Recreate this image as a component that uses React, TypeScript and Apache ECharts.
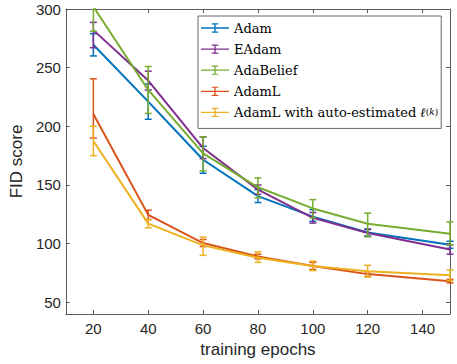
import React, { useEffect, useRef } from "react";
import * as echarts from "echarts";

const epochs = [20, 40, 60, 80, 100, 120, 150];
const xTicks = [20, 40, 60, 80, 100, 120, 140];
const yTicks = [50, 100, 150, 200, 250, 300];

const seriesNames = ["Adam", "EAdam", "AdaBelief", "AdamL", "AdamL with auto-estimated ℓ(k)"];
const seriesColors = ["#0072BD", "#7E2F8E", "#77AC30", "#D95319", "#EDB120"];

const adam = [269.5, 221, 171.5, 140.5, 123, 109.5, 99];
const adamLo = [9.5, 15, 11.5, 5.5, 4, 3, 3];
const adamHi = [9.5, 15, 11.5, 5.5, 6, 3, 3];

const eadam = [282, 239, 181.5, 146, 122, 109, 95];
const eadamLo = [15, 8, 9, 4, 4.5, 3, 4];
const eadamHi = [6.6, 8, 9.5, 4, 4.5, 3, 4];

const adabelief = [302, 231, 177, 148, 130, 117, 108.5];
const adabeliefLo = [21, 20, 15, 9, 8, 11, 9.5];
const adabeliefHi = [21, 20, 14, 8, 7.5, 9, 10];

const adamL = [210.5, 124.5, 100.5, 89, 81, 74, 68];
const adamLLo = [20.5, 4, 3, 2, 3, 2, 1.5];
const adamLHi = [30, 4, 3, 2, 3, 2, 1.5];

const adamLAuto = [187.5, 117, 98.5, 88, 81, 76.5, 73];
const adamLAutoLo = [12.5, 3.5, 8.5, 4, 4, 5, 4.5];
const adamLAutoHi = [12.5, 3.5, 7, 5, 4, 5, 4.5];

const values = [adam, eadam, adabelief, adamL, adamLAuto];
const lows = [adamLo, eadamLo, adabeliefLo, adamLLo, adamLAutoLo];
const highs = [adamHi, eadamHi, adabeliefHi, adamLHi, adamLAutoHi];

const ICON =
  "path://M0,4.3H30V5.7H0Z M14.3,0H15.7V10H14.3Z M11.5,0H18.5V1.3H11.5Z M11.5,8.7H18.5V10H11.5Z";

const AXIS_COLOR = "#5a5a5a";
const TEXT_COLOR = "#262626";

export default function App() {
  const ref = useRef<HTMLDivElement>(null);

  useEffect(() => {
    if (!ref.current) return;
    const chart = echarts.init(ref.current, undefined, { renderer: "svg" });

    const lineSeries = seriesNames.map((name, i) => ({
      name,
      type: "line",
      data: epochs.map((x, j) => [x, values[i][j]]),
      showSymbol: false,
      symbol: "none",
      clip: true,
      lineStyle: { color: seriesColors[i], width: 2 },
      itemStyle: { color: seriesColors[i] },
      z: 2 + i,
    }));

    const errSeries = seriesNames.map((name, i) => ({
      name,
      type: "custom",
      data: epochs.map((x, j) => [x, values[i][j], lows[i][j], highs[i][j]]),
      encode: { x: 0, y: 1 },
      itemStyle: { color: seriesColors[i] },
      z: 2 + i,
      renderItem: (params: any, api: any) => {
        const x = api.value(0);
        const y = api.value(1);
        const lo = api.value(2);
        const hi = api.value(3);
        const cs = params.coordSys;
        const pLo = api.coord([x, y - lo]);
        const pHi = api.coord([x, y + hi]);
        const top = cs.y;
        const bottom = cs.y + cs.height;
        const yTop = Math.max(top, pHi[1]);
        const yBot = Math.min(bottom, pLo[1]);
        const style = { stroke: seriesColors[i], lineWidth: 1.5 };
        const half = 3.5;
        const children: any[] = [
          { type: "line", shape: { x1: pLo[0], y1: yBot, x2: pLo[0], y2: yTop }, style },
        ];
        if (pHi[1] >= top) {
          children.push({
            type: "line",
            shape: { x1: pHi[0] - half, y1: pHi[1], x2: pHi[0] + half, y2: pHi[1] },
            style,
          });
        }
        if (pLo[1] <= bottom) {
          children.push({
            type: "line",
            shape: { x1: pLo[0] - half, y1: pLo[1], x2: pLo[0] + half, y2: pLo[1] },
            style,
          });
        }
        return { type: "group", children };
      },
    }));

    const axisBase = {
      axisLine: { show: true, lineStyle: { color: AXIS_COLOR, width: 1 } },
      splitLine: { show: false },
    };

    chart.setOption({
      animation: false,
      backgroundColor: "#ffffff",
      grid: { left: 57, right: 7, top: 9, bottom: 50, containLabel: false },
      xAxis: [
        {
          ...axisBase,
          type: "value",
          min: 10,
          max: 150,
          position: "bottom",
          name: "training epochs",
          nameLocation: "middle",
          nameGap: 27,
          nameTextStyle: { fontFamily: "Liberation Sans", fontSize: 17, color: TEXT_COLOR },
          axisTick: {
            show: true,
            inside: true,
            length: 4,
            customValues: xTicks,
            lineStyle: { color: AXIS_COLOR },
          },
          axisLabel: {
            show: true,
            customValues: xTicks,
            margin: 7,
            fontFamily: "Liberation Sans",
            fontSize: 15,
            color: TEXT_COLOR,
          },
        },
        {
          ...axisBase,
          type: "value",
          min: 10,
          max: 150,
          position: "top",
          axisTick: {
            show: true,
            inside: true,
            length: 4,
            customValues: xTicks,
            lineStyle: { color: AXIS_COLOR },
          },
          axisLabel: { show: false },
        },
      ],
      yAxis: [
        {
          ...axisBase,
          type: "value",
          min: 40,
          max: 300,
          position: "left",
          name: "FID score",
          nameLocation: "middle",
          nameGap: 38,
          nameTextStyle: { fontFamily: "Liberation Sans", fontSize: 17, color: TEXT_COLOR },
          axisTick: {
            show: true,
            inside: true,
            length: 4,
            customValues: yTicks,
            lineStyle: { color: AXIS_COLOR },
          },
          axisLabel: {
            show: true,
            customValues: yTicks,
            margin: 5,
            fontFamily: "Liberation Sans",
            fontSize: 15,
            color: TEXT_COLOR,
          },
        },
        {
          ...axisBase,
          type: "value",
          min: 40,
          max: 300,
          position: "right",
          axisTick: {
            show: true,
            inside: true,
            length: 4,
            customValues: yTicks,
            lineStyle: { color: AXIS_COLOR },
          },
          axisLabel: { show: false },
        },
      ],
      legend: {
        orient: "vertical",
        left: 198,
        top: 16,
        padding: [5.5, 3, 6, 3],
        itemWidth: 28,
        itemHeight: 10,
        itemGap: 8.1,
        backgroundColor: "#ffffff",
        borderColor: "#666666",
        borderWidth: 1,
        borderRadius: 0,
        z: 20,
        data: seriesNames.map((name, i) => ({
          name,
          icon: ICON,
          itemStyle: { color: seriesColors[i] },
        })),
        formatter: (name: string) => {
          if (name === seriesNames[4]) {
            return "{t|AdamL with auto-estimated }{l|ℓ}{s|(}{k|k}{s|)}";
          }
          return "{t|" + name + "}";
        },
        textStyle: {
          fontFamily: "DejaVu Serif",
          fontSize: 13,
          color: "#000000",
          lineHeight: 10,
          rich: {
            t: { fontFamily: "DejaVu Serif", fontSize: 13, color: "#000000", lineHeight: 10 },
            l: {
              fontFamily: "DejaVu Serif",
              fontSize: 13,
              fontStyle: "italic",
              color: "#000000",
              lineHeight: 10,
            },
            s: {
              fontFamily: "DejaVu Serif",
              fontSize: 9,
              color: "#000000",
              lineHeight: 10,
              verticalAlign: "top",
              padding: [0, 0, 6, 0],
            },
            k: {
              fontFamily: "DejaVu Serif",
              fontSize: 9,
              fontStyle: "italic",
              color: "#000000",
              lineHeight: 10,
              verticalAlign: "top",
              padding: [0, 0, 6, 0],
            },
          },
        },
      },
      series: [...lineSeries, ...errSeries],
    });

    return () => chart.dispose();
  }, []);

  return (
    <div
      ref={ref}
      style={{ position: "fixed", left: 0, top: 0, width: 457, height: 364 }}
    />
  );
}
